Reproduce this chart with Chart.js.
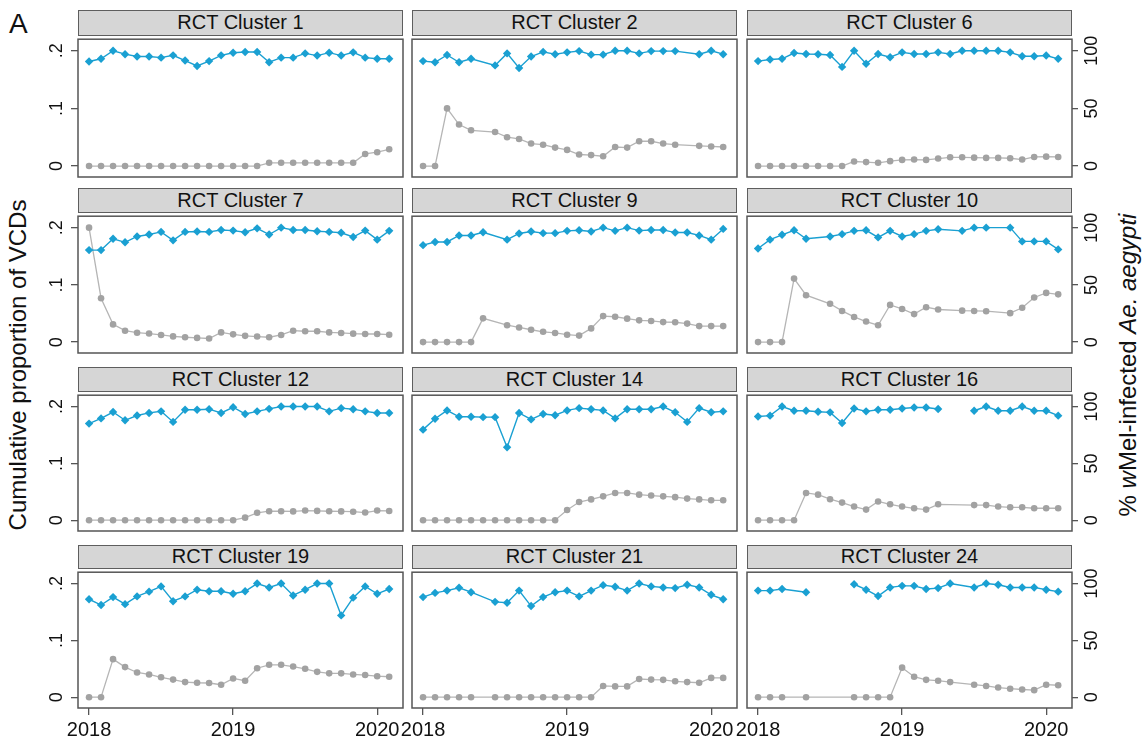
<!DOCTYPE html>
<html><head><meta charset="utf-8">
<script src="https://cdn.jsdelivr.net/npm/chart.js@4.4.1/dist/chart.umd.min.js"></script>
<style>
html,body{margin:0;padding:0;background:#fff;width:1146px;height:746px;overflow:hidden;font-family:"Liberation Sans",Arial,sans-serif;}
#wrap{position:relative;width:1146px;height:746px;}
.strip{position:absolute;box-sizing:border-box;background:#d6d6d6;border:1.5px solid #5e5e5e;color:#111;font-size:20px;text-align:center;}
canvas{position:absolute;}
.ytitle{position:absolute;white-space:nowrap;font-size:24px;color:#111;transform:translate(-50%,-50%) rotate(-90deg);}
.panelA{position:absolute;left:9px;top:8px;font-size:28px;color:#111;}
</style></head><body><div id="wrap"></div>
<script>
// ---------- data ----------
const months = ['2018-01','2018-02','2018-03','2018-04','2018-05','2018-06','2018-07','2018-08','2018-09','2018-10','2018-11','2018-12',
                '2019-01','2019-02','2019-03','2019-04','2019-05','2019-06','2019-07','2019-08','2019-09','2019-10','2019-11','2019-12',
                '2020-01','2020-02'];
const xTickValues = [0, 12, 24];
const xTickLabels = ['2018', '2019', '2020'];
const leftTickValues = [0, 0.1, 0.2];
const leftTickLabels = ['0', '.1', '.2'];
const rightTickValues = [0, 50, 100];
const rightTickLabels = ['0', '50', '100'];
const clusterNames = ['RCT Cluster 1','RCT Cluster 2','RCT Cluster 6','RCT Cluster 7','RCT Cluster 9','RCT Cluster 10',
                      'RCT Cluster 12','RCT Cluster 14','RCT Cluster 16','RCT Cluster 19','RCT Cluster 21','RCT Cluster 24'];

// cumulative proportion of VCDs (left axis)
const vcd1  = [0,0,0,0,0,0,0,0,0,0,0,0,0,0,0,.0056,.0056,.0056,.0056,.0056,.0056,.0056,.0056,.021,.024,.029];
const vcd2  = [0,0,.100,.072,.062,null,.059,.050,.047,.039,.037,.032,.028,.020,.019,.017,.033,.032,.043,.043,.039,.037,null,.035,.034,.033];
const vcd6  = [0,0,0,0,0,0,0,0,.0079,.0068,.0056,.0085,.0107,.0113,.0107,.013,.0152,.0152,.0146,.0141,.0141,.0135,.0113,.0158,.0163,.0158];
const vcd7  = [.2,.0767,.031,.020,.0165,.015,.0125,.010,.0085,.0074,.0063,.017,.0136,.011,.0097,.0085,.0125,.020,.019,.019,.017,.016,.0148,.0142,.0142,.013];
const vcd9  = [0,0,0,0,0,.0415,null,.0295,.0256,.0216,.018,.016,.013,.0114,.024,.0455,.0443,.041,.038,.037,.035,.0347,.0324,.028,.028,.028];
const vcd10 = [0,0,0,.111,.082,null,.067,.0545,.044,.036,.0295,.065,.058,.049,.061,.057,null,.055,.0545,.054,null,.0506,.060,.078,.086,.0835];
const vcd12 = [0,0,0,0,0,0,0,0,0,0,0,0,0,.0045,.013,.0158,.0158,.0155,.017,.0164,.0158,.0155,.015,.0135,.017,.0163];
const vcd14 = [0,0,0,0,0,0,0,0,0,0,0,0,.018,.032,.0366,.042,.048,.048,.045,.0434,.042,.0406,.038,.0366,.035,.035];
const vcd16 = [0,0,0,0,.048,.045,.037,.031,.024,.0187,.033,.028,.024,.021,.0187,.028,null,null,.0266,.0266,.024,.0227,.0227,.021,.021,.021];
const vcd19 = [0,0,.067,.053,.0435,.040,.035,.031,.0266,.0254,.025,.022,.033,.029,.051,.057,.057,.054,.050,.0446,.042,.042,.040,.039,.037,.036];
const vcd21 = [0,0,0,0,0,null,0,0,0,0,0,0,0,0,0,.0198,.019,.019,.032,.031,.0305,.028,.0266,.0254,.034,.034];
const vcd24 = [0,0,0,null,0,null,null,null,0,0,0,0,.052,.036,.0305,.029,.0266,null,.022,.0198,.017,.015,.0136,.0124,.022,.021];

// % wMel-infected Ae. aegypti (right axis)
const wmel1  = [90.7,93,100,97,95,95,94,96,91.5,86.8,91,96,98.3,98.9,98.9,90,94,94,97.7,95.8,98.3,95.8,98.6,94,93,93];
const wmel2  = [91,90,96.3,90,93,null,87.3,97.7,85,95,99,97,98.6,99.7,96.6,96.6,100,100,97.7,99.7,99.7,99.7,null,97,100,97];
const wmel6  = [91,92.4,93,98,97.2,97,96.3,86,100,88.7,97.2,94.4,98.6,97.2,97.2,98.6,97.2,100,100,100,100,98.6,95.2,95.2,95.8,93];
const wmel7  = [80.4,80.4,90.3,87.2,92.3,94,96.3,88.9,96.3,96.6,96.3,98,97.4,96,99.4,94,100,98,98,96.9,96.3,95.5,91.8,97.4,89.5,97.2];
const wmel9  = [84.7,87.5,87.5,93.2,93.2,96,null,89.5,94.9,96.6,95.2,95.2,97.2,97.7,96.6,100,97.2,100,97.4,98,98,95.7,95.7,93.2,89.5,98.9];
const wmel10 = [81.8,89.5,93.75,97.7,90.3,null,92.3,94.3,97.2,97.7,91.5,97.2,92.3,94.3,97.2,98.6,null,97.2,100,100,null,100,88,88,88,81];
const wmel12 = [85,89.6,95.2,87.9,92.1,94.4,95.8,86.5,97.2,97.2,97.7,94.4,99.4,93.5,95.8,98,100,100,100,100,95.8,98.6,97.7,95.8,94.4,94.4];
const wmel14 = [79.7,89.3,96.6,91,91,90.7,90.7,64.2,94.4,88.7,93.5,92.4,96.6,98.6,97.7,96.6,89.6,97.7,97.7,97.7,100,95,86.5,98.6,95,95.8];
const wmel16 = [91.2,92,100,96.3,96.3,95.5,94.9,85.6,98.3,95.8,97.2,97.2,98.3,99.2,99.2,97.8,null,null,96.3,100,96.3,96.3,100,96.3,96.3,92];
const wmel19 = [86.2,81.1,88.1,81.9,88.7,92.9,97.5,84.5,88.7,94.6,93.2,93.2,91,93.2,100,96.6,100,89.5,94.6,100,100,72,87.6,97.5,91,95.2];
const wmel21 = [88.1,91.8,93.8,96.3,92.4,null,83.9,83.1,93.8,80.2,88.1,92.4,93.8,88.7,93.8,98.6,97.2,93.8,100,97.5,96.6,96,98.9,96.6,90.1,86.2];
const wmel24 = [93.8,93.8,95.2,null,92.4,null,null,null,99.4,94.6,89,96.6,98,98,95.2,96,100,null,96.6,100,98.9,96.6,96.6,96.6,94.6,92.9];

const vcdSeries  = [vcd1,vcd2,vcd6,vcd7,vcd9,vcd10,vcd12,vcd14,vcd16,vcd19,vcd21,vcd24];
const wmelSeries = [wmel1,wmel2,wmel6,wmel7,wmel9,wmel10,wmel12,wmel14,wmel16,wmel19,wmel21,wmel24];
const maxBlueGap = 2; // wMel line spans at most one missing month

// ---------- layout / style ----------
const FONT = '"Liberation Sans", Arial, sans-serif';
const TXT = '#111111';
const AX = '#555555';
const GREY_LINE = '#b5b5b5', GREY_PT = '#a2a2a2';
const BLUE = '#1aa0d2';
const CLEAR = 'rgba(0,0,0,0)';
const plotLefts = [78, 412, 747], plotW = 325;
const stripTops = [10, 188, 367, 545];
const plotTops = [35, 212, 391, 568];
const plotBots = [177, 353, 531, 708];
const AXL = 40, AXR = 50, AXB = 38;

const wrap = document.getElementById('wrap');
const a = document.createElement('div'); a.className='panelA'; a.textContent='A'; wrap.appendChild(a);
const lt = document.createElement('div'); lt.className='ytitle'; lt.style.left='18px'; lt.style.top='365px';
lt.textContent='Cumulative proportion of VCDs'; wrap.appendChild(lt);
const rt = document.createElement('div'); rt.className='ytitle'; rt.style.left='1128px'; rt.style.top='365px';
rt.innerHTML='% <i>w</i>Mel-infected <i>Ae. aegypti</i>'; wrap.appendChild(rt);

const framePlugin = {
  id: 'frame',
  afterDraw(chart, args, o) {
    const ctx = chart.ctx, ca = chart.chartArea;
    ctx.save();
    ctx.strokeStyle = AX; ctx.lineWidth = 1.5;
    ctx.strokeRect(ca.left, ca.top, ca.right - ca.left, ca.bottom - ca.top);
    ctx.fillStyle = TXT; ctx.font = '18px ' + FONT;
    ctx.textAlign = 'center'; ctx.textBaseline = 'middle';
    if (o.showLeft) {
      const s = chart.scales.y;
      s.ticks.forEach(t => {
        ctx.save(); ctx.translate(ca.left - 21, s.getPixelForValue(t.value)); ctx.rotate(-Math.PI/2);
        ctx.fillText(leftTickLabels[leftTickValues.indexOf(t.value)], 0, 0); ctx.restore();
      });
    }
    if (o.showRight) {
      const s = chart.scales.y1;
      s.ticks.forEach(t => {
        ctx.save(); ctx.translate(ca.right + 20, s.getPixelForValue(t.value)); ctx.rotate(-Math.PI/2);
        ctx.fillText(rightTickLabels[rightTickValues.indexOf(t.value)], 0, 0); ctx.restore();
      });
    }
    ctx.restore();
  }
};

function gapColor(arr, color) {
  return c => {
    let i0 = c.p0DataIndex, i1 = c.p1DataIndex;
    while (i0 > 0 && arr[i0] == null) i0--;
    while (i1 < arr.length - 1 && arr[i1] == null) i1++;
    return (i1 - i0 > maxBlueGap) ? CLEAR : color;
  };
}

clusterNames.forEach((name, k) => {
  const col = k % 3, row = Math.floor(k / 3);
  const pl = plotLefts[col], pt = plotTops[row], ph = plotBots[row] - plotTops[row];
  const strip = document.createElement('div');
  strip.className = 'strip';
  strip.style.left = pl + 'px'; strip.style.top = stripTops[row] + 'px';
  strip.style.width = plotW + 'px'; strip.style.height = (pt - stripTops[row] + 1) + 'px';
  strip.style.lineHeight = (pt - stripTops[row] - 2) + 'px';
  strip.textContent = name;
  wrap.appendChild(strip);

  const cv = document.createElement('canvas');
  const W = AXL + plotW + AXR, H = ph + AXB;
  cv.width = W; cv.height = H;
  cv.style.left = (pl - AXL) + 'px'; cv.style.top = pt + 'px';
  cv.style.width = W + 'px'; cv.style.height = H + 'px';
  wrap.appendChild(cv);

  const showLeft = col === 0, showRight = col === 2, showBottom = row === 3;
  const vcd = vcdSeries[k], wm = wmelSeries[k];
  new Chart(cv, {
    type: 'line',
    data: {
      datasets: [
        { label: '% wMel', yAxisID: 'y1',
          data: months.map((m, i) => ({ x: i, y: wm[i] })),
          borderColor: BLUE, backgroundColor: BLUE, borderWidth: 1.4,
          pointStyle: 'rectRot', pointRadius: 4.2, pointBorderWidth: 0, pointBackgroundColor: BLUE,
          spanGaps: true, tension: 0,
          segment: { borderColor: gapColor(wm, BLUE) } },
        { label: 'VCDs', yAxisID: 'y',
          data: months.map((m, i) => ({ x: i, y: vcd[i] })),
          borderColor: GREY_LINE, backgroundColor: GREY_PT, borderWidth: 1.3,
          pointStyle: 'circle', pointRadius: 3.3, pointBorderWidth: 0, pointBackgroundColor: GREY_PT,
          spanGaps: true, tension: 0 }
      ]
    },
    options: {
      responsive: false, animation: false, devicePixelRatio: 1,
      layout: { padding: 0 },
      plugins: { legend: { display: false }, tooltip: { enabled: false }, title: { display: false },
                 frame: { showLeft, showRight } },
      scales: {
        x: { type: 'linear', min: -0.92, max: 26.15,
             afterBuildTicks: s => { s.ticks = xTickValues.map(v => ({ value: v })); },
             afterFit: s => { s.height = AXB; },
             ticks: { display: showBottom, autoSkip: false, maxRotation: 0, minRotation: 0, padding: 3,
                      color: TXT, font: { size: 20, family: FONT },
                      callback: v => xTickLabels[xTickValues.indexOf(v)] },
             grid: { display: showBottom, drawOnChartArea: false, drawTicks: true, tickLength: 7, color: AX, lineWidth: 1.3 },
             border: { display: false } },
        y: { position: 'left', min: -0.019, max: 0.22,
             afterBuildTicks: s => { s.ticks = leftTickValues.map(v => ({ value: v })); },
             afterFit: s => { s.width = AXL; },
             ticks: { display: false },
             grid: { display: showLeft, drawOnChartArea: false, drawTicks: true, tickLength: 7, color: AX, lineWidth: 1.3 },
             border: { display: false } },
        y1: { position: 'right', min: -9.5, max: 110,
             afterBuildTicks: s => { s.ticks = rightTickValues.map(v => ({ value: v })); },
             afterFit: s => { s.width = AXR; },
             ticks: { display: false },
             grid: { display: showRight, drawOnChartArea: false, drawTicks: true, tickLength: 6, color: AX, lineWidth: 1.3 },
             border: { display: false } }
      }
    },
    plugins: [framePlugin]
  });
});
</script>
</body></html>
